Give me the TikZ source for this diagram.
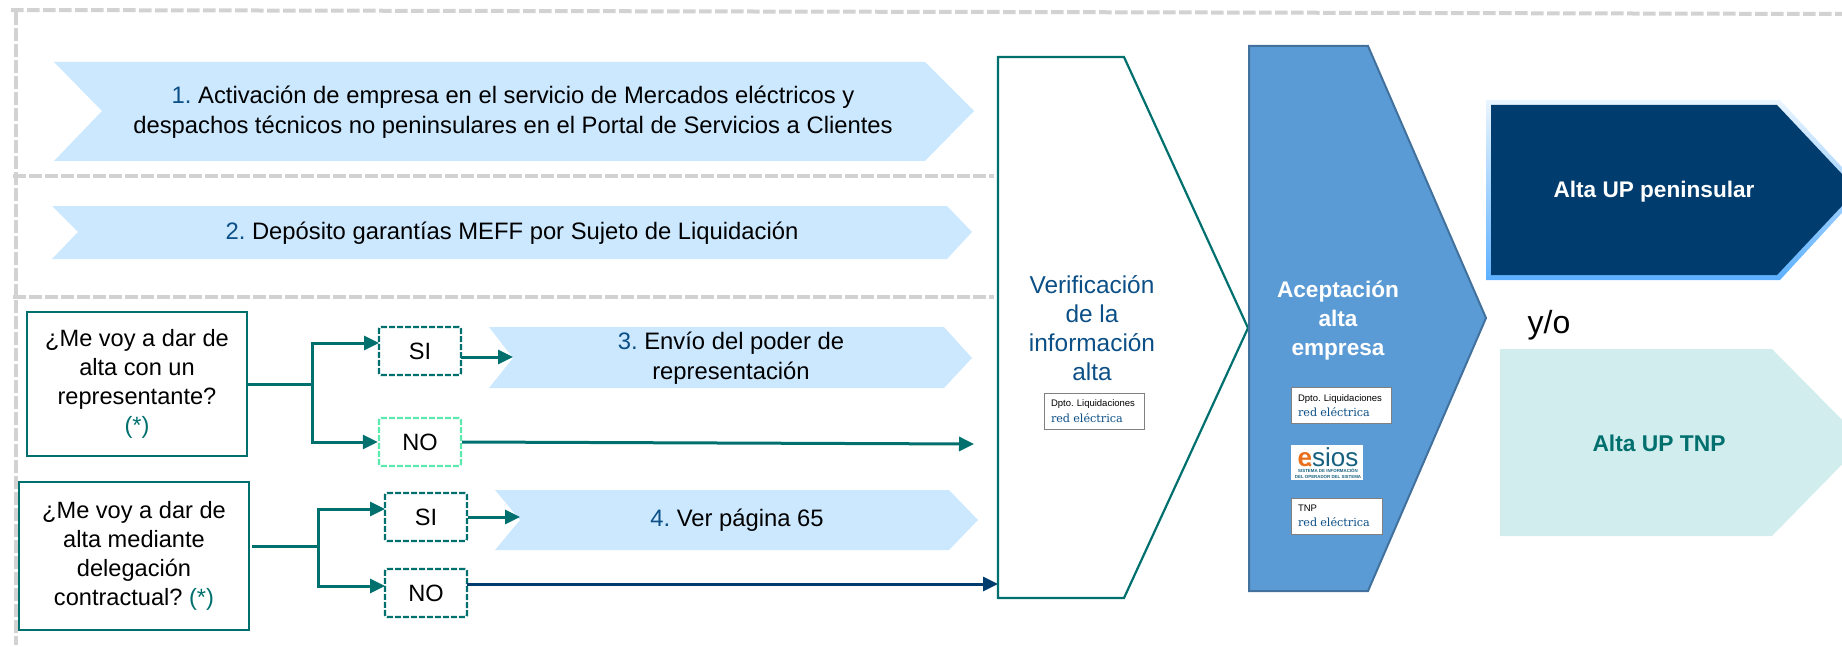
\documentclass[tikz,border=0pt]{standalone}
\usepackage{fontspec}
\setmainfont{Liberation Sans}
\newfontfamily\logofont{DejaVu Serif}
\usetikzlibrary{arrows.meta,shadings}
\definecolor{tealline}{HTML}{00706F}
\definecolor{navyblue}{HTML}{003C6E}
\definecolor{numblue}{HTML}{0B4F86}
\definecolor{paleblue}{HTML}{CBE8FF}
\definecolor{paleteal}{HTML}{D2EDED}
\definecolor{midblue}{HTML}{5B9BD5}
\definecolor{midedge}{HTML}{41719C}
\definecolor{framegrey}{HTML}{D2D2D2}
\definecolor{mintline}{HTML}{5DE8B0}
\definecolor{esiosorange}{HTML}{E8701E}
\definecolor{esiosblue}{HTML}{17607F}
\definecolor{halotop}{HTML}{EAF5FF}
\definecolor{halobottom}{HTML}{5DB0FF}
\tikzset{
    framedash/.style={draw=framegrey,line width=2pt,dash pattern=on 6.3pt off 1.7pt},
    chevron/.style={fill=paleblue},
    trunk/.style={draw=tealline,line width=1.5pt},
    flow/.style={trunk,-{Triangle[length=7.5pt,width=7pt]}},
    questionbox/.style={draw=tealline,line width=1.4pt,align=center,font=\fontsize{11.8}{14.4}\selectfont},
    optionbox/.style={draw=tealline,line width=1.2pt,dash pattern=on 3pt off 1pt,rounded corners=1pt,minimum width=41pt,minimum height=24pt,inner sep=0pt,font=\fontsize{11.8}{14}\selectfont},
    steptext/.style={align=center,font=\fontsize{11.9}{14.9}\selectfont},
    logobox/.style={draw=gray,fill=white,line width=0.5pt,align=left,minimum height=18pt,inner xsep=3.5pt,inner ysep=1pt,font=\fontsize{4.75}{7.7}\selectfont}
}
\newcommand{\redlogo}{{\logofont\fontsize{5.6}{7.7}\selectfont\color{numblue}red eléctrica}}
\frenchspacing
\begin{document}
\begin{tikzpicture}[x=0.5pt,y=-0.5pt]
    \clip (0,0) rectangle (1842,647);
    % frame
    \draw [framedash] (11,10) -- (1000,12) -- (1842,14);
    \draw [framedash] (15.5,12) -- (15.5,645);
    \draw [framedash] (13,176) -- (994,176);
    \draw [framedash] (13,297) -- (994,297);
    % steps
    \fill [chevron] (54,62) -- (925,62) -- (974,111) -- (925,161) -- (54,161) -- (102,111) -- cycle;
    \fill [chevron] (52,206) -- (947,206) -- (972,232) -- (947,259) -- (52,259) -- (78,232) -- cycle;
    \fill [chevron] (489,327) -- (944,327) -- (972,358) -- (944,388) -- (489,388) -- (513,358) -- cycle;
    \fill [chevron] (495,490) -- (949,490) -- (978,520) -- (949,550) -- (495,550) -- (520,520) -- cycle;
    \node [steptext] (step1) at (513,112) {\textcolor{numblue}{1.} Activación de empresa en el servicio de Mercados eléctricos y\\despachos técnicos no peninsulares en el Portal de Servicios a Clientes};
    \node [steptext] (step2) at (512,233) {\textcolor{numblue}{2.} Depósito garantías MEFF por Sujeto de Liquidación};
    \node [steptext] (step3) at (731,358) {\textcolor{numblue}{3.} Envío del poder de\\representación};
    \node [steptext] (step4) at (737,520) {\textcolor{numblue}{4.} Ver página 65};
    % questions
    \node [questionbox,minimum width=110pt,minimum height=72pt] (question1) at (137,384) {¿Me voy a dar de\\alta con un\\representante?\\\textcolor{tealline}{(*)}};
    \node [questionbox,minimum width=115pt,minimum height=74pt] (question2) at (134,556) {¿Me voy a dar de\\alta mediante\\delegación\\contractual? \textcolor{tealline}{(*)}};
    \node [optionbox] (si1) at (420,351) {SI};
    \node [optionbox,draw=mintline,below of=si1,node distance=45.5pt] (no1) {NO};
    \node [optionbox] (si2) at (426,517) {SI};
    \node [optionbox,below of=si2,node distance=38pt] (no2) {NO};
    \coordinate (fork1) at (312,384);
    \coordinate (si1in) at (379,343);
    \coordinate (si1out) at (461,357);
    \coordinate (notch3) at (513,357);
    \coordinate (no1end) at (974,444);
    \coordinate (q2out) at (252,546);
    \coordinate (fork2) at (318,546);
    \coordinate (si2in) at (385,509);
    \coordinate (notch4) at (520,517);
    \coordinate (no2in) at (385,586);
    \coordinate (no2out) at (467,584);
    \coordinate (verifin) at (998,584);
    \draw [trunk] (question1.east) to (fork1);
    \draw [flow] (fork1) |- (si1in);
    \draw [flow] (fork1) |- (no1.west);
    \draw [flow] (si1out) to (notch3);
    \draw [flow] (no1.east) to (no1end);
    \draw [trunk] (q2out) to (fork2);
    \draw [flow] (fork2) |- (si2in);
    \draw [flow] (fork2) |- (no2in);
    \draw [flow] (si2.east) to (notch4);
    \draw [flow,draw=navyblue] (no2out) to (verifin);
    % verificacion
    \draw [draw=tealline,line width=1.1pt] (998,57) -- (1124,57) -- (1248,328) -- (1124,598) -- (998,598) -- cycle;
    \node [align=center,text=numblue,font=\fontsize{12.2}{14.5}\selectfont] (verif) at (1092,328) {Verificación\\de la\\información\\alta};
    \node [logobox,text width=43pt] (dpto1) at (1094,411) {\mbox{Dpto. Liquidaciones}\\\redlogo};
    % aceptacion
    \draw [fill=midblue,draw=midedge,line width=1pt] (1249,46) -- (1368,46) -- (1486,318) -- (1368,591) -- (1249,591) -- cycle;
    \node [align=center,text=white,font=\bfseries\fontsize{11.3}{14.5}\selectfont] (accept) at (1338,321) {Aceptación\\alta\\empresa};
    \node [logobox,text width=43pt] (dpto2) at (1341,405.5) {\mbox{Dpto. Liquidaciones}\\\redlogo};
    \node [fill=white,minimum width=36pt,minimum height=17.5pt,inner sep=0pt] (esios) at (1327,462.5) {};
    \node [inner sep=0pt,font=\fontsize{13}{13}\selectfont] (esiosname) at (1328,457) {\textcolor{esiosorange}{\bfseries e}\textcolor{esiosblue}{sios}};
    \fill [esiosorange] (1310,465) circle (1.6);
    \node [inner sep=0pt,align=center,text=esiosblue,font=\bfseries\fontsize{2.2}{2.6}\selectfont] (esiosnote) at (1328,473.5) {SISTEMA DE INFORMACIÓN\\DEL OPERADOR DEL SISTEMA};
    \node [logobox,text width=38.5pt] (tnp) at (1336.5,516) {TNP\\\redlogo};
    % altas
    \shade [top color=halotop,bottom color=halobottom] (1486,100) -- (1780,100) -- (1863,190) -- (1780,280) -- (1486,280) -- cycle;
    \fill [navyblue] (1491,105) -- (1777,105) -- (1857,190) -- (1777,275) -- (1491,275) -- cycle;
    \node [text=white,font=\bfseries\fontsize{11.3}{13}\selectfont] (altapen) at (1654,192) {Alta UP peninsular};
    \node [font=\fontsize{16}{18}\selectfont] (yo) at (1549,325) {y/o};
    \fill [paleteal] (1500,349) -- (1772,349) -- (1864,442) -- (1772,536) -- (1500,536) -- cycle;
    \node [text=tealline,font=\bfseries\fontsize{11.4}{13}\selectfont] (altatnp) at (1659,443) {Alta UP TNP};
\end{tikzpicture}
\end{document}
